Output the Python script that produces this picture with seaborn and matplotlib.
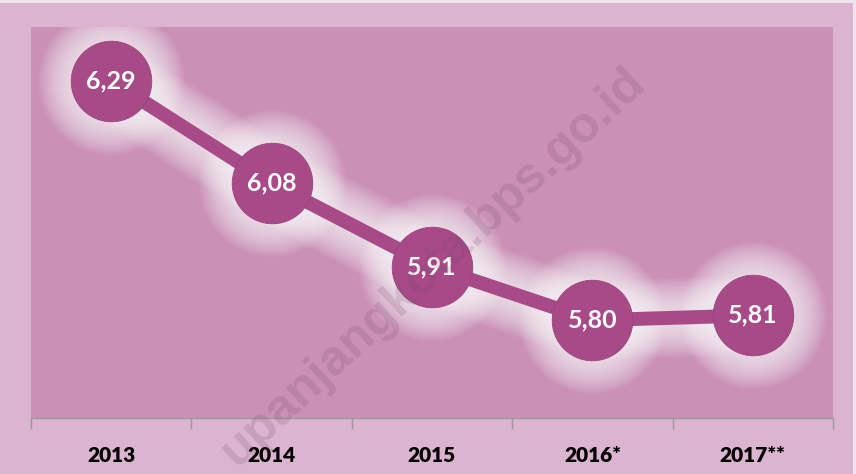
import matplotlib.pyplot as plt
import seaborn as sns
import pandas as pd
from matplotlib.patches import Rectangle

# Data
years = ["2013", "2014", "2015", "2016*", "2017**"]
rates = [6.29, 6.08, 5.91, 5.80, 5.81]
labels = ["6,29", "6,08", "5,91", "5,80", "5,81"]

outer_bg = "#dbb4cf"
inner_bg = "#ca90b6"
purple = "#a94a88"

sns.set_style("white")
plt.rcParams['font.family'] = ['Lato', 'DejaVu Sans']

df = pd.DataFrame({"pos": range(len(years)), "rate": rates})

fig = plt.figure(figsize=(8.56, 4.74), dpi=100, facecolor="#f1e4ed")
# chart area background, leaving a thin light strip at top and right
fig.patches.append(Rectangle((0, 0), 1 - 3 / 856, 1 - 3 / 474,
                             transform=fig.transFigure, facecolor=outer_bg,
                             edgecolor="none", zorder=-10))
ax = fig.add_axes([0.0362, 0.1181, 0.9369, 0.8249])
ax.set_facecolor(inner_bg)

# soft white glow around the line and the circles
n = 20
for i in range(n):
    lw = 12 + i * 2.4
    ms = 60 + i * 2.4
    ax.plot(df["pos"], df["rate"], color="white", lw=lw, alpha=0.055,
            solid_capstyle="round", solid_joinstyle="round", zorder=1)
    ax.plot(df["pos"], df["rate"], ls="none", marker="o", ms=ms,
            color="white", alpha=0.055, markeredgewidth=0, zorder=1)

sns.lineplot(data=df, x="pos", y="rate", color=purple, lw=10, marker="o",
             markersize=58, markerfacecolor=purple, markeredgecolor="#9a4480",
             markeredgewidth=0.6, ax=ax, zorder=3)

for x, y, t in zip(df["pos"], df["rate"], labels):
    ax.text(x, y, t, color="white", fontsize=18, fontweight="bold",
            ha="center", va="center", zorder=4)

ax.set_xlim(-0.5, len(years) - 0.5)
ax.set_ylim(5.6, 6.4)
ax.set_yticks([])
ax.set_xticks(range(len(years)))
ax.set_xticklabels(years, fontsize=15, fontweight="heavy", color="black")
ax.set_xticks([i - 0.5 for i in range(len(years) + 1)], minor=True)
ax.tick_params(axis="x", which="major", length=0, pad=20)
ax.tick_params(axis="x", which="minor", length=8, width=1, color="#9a9a9a",
               direction="out", bottom=True)
ax.set_xlabel("")
ax.set_ylabel("")
for s in ["top", "left", "right"]:
    ax.spines[s].set_visible(False)
ax.spines["bottom"].set_color("#9a9a9a")
ax.spines["bottom"].set_linewidth(1)

# watermark
fig.text(0.506, 0.438, "upanjangkota.bps.go.id", rotation=43,
         fontsize=36, fontweight="bold", family="Liberation Sans",
         color="#6e4a66", alpha=0.18, ha="center", va="center",
         rotation_mode="anchor", zorder=10)

fig.savefig("out.png", dpi=100, facecolor=fig.get_facecolor())
